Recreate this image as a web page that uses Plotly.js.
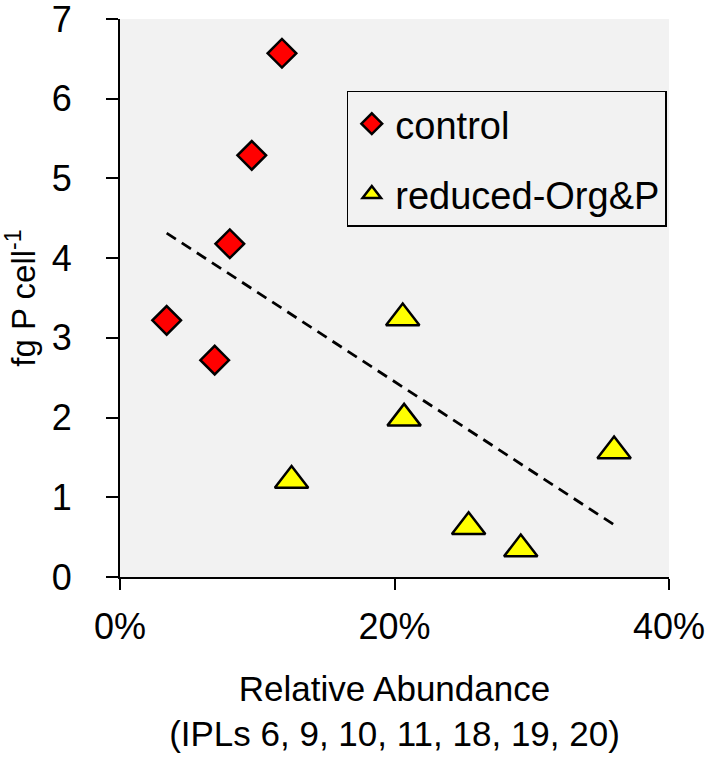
<!DOCTYPE html>
<html>
<head>
<meta charset="utf-8">
<script src="https://cdn.plot.ly/plotly-3.0.1.min.js"></script>
<style>
  html, body { margin: 0; padding: 0; background: #fff; }
  #chart { width: 709px; height: 762px; }
</style>
</head>
<body>
<div id="chart"></div>
<script>
"use strict";

// values
const controlX = [0.034, 0.069, 0.080, 0.096, 0.118];
const controlY = [3.22, 2.72, 4.18, 5.29, 6.57];
const reducedX = [0.125, 0.206, 0.207, 0.254, 0.292, 0.360];
const reducedY = [1.21, 3.25, 1.99, 0.63, 0.35, 1.58];

const seriesNames = ["control", "reduced-Org&P"];
const xTicks = [0, 0.2, 0.4];
const yTicks = [0, 1, 2, 3, 4, 5, 6, 7];

// least squares trend over all points, drawn between the extreme x values
const allX = controlX.concat(reducedX);
const allY = controlY.concat(reducedY);
const n = allX.length;
const mx = allX.reduce((a, b) => a + b, 0) / n;
const my = allY.reduce((a, b) => a + b, 0) / n;
let sxy = 0, sxx = 0;
for (let i = 0; i < n; i++) {
  sxy += (allX[i] - mx) * (allY[i] - my);
  sxx += (allX[i] - mx) * (allX[i] - mx);
}
const slope = sxy / sxx;
const icpt = my - slope * mx;
const trendX = [Math.min(...allX), Math.max(...allX)];
const trendY = trendX.map(x => icpt + slope * x);

const font = "Arial, 'Liberation Sans', sans-serif";

const traces = [
  {
    type: "scatter",
    mode: "lines",
    x: trendX,
    y: trendY,
    showlegend: false,
    hoverinfo: "skip",
    line: { color: "#000", width: 2.8, dash: "11px,7px" },
  },
  {
    type: "scatter",
    mode: "markers",
    name: seriesNames[0],
    legendgroup: "a",
    x: controlX,
    y: controlY,
    marker: { symbol: "diamond", size: 22, color: "#ff0000", line: { color: "#000", width: 2.5 } },
  },
  {
    type: "scatter",
    mode: "markers",
    name: seriesNames[1],
    legendgroup: "b",
    x: reducedX,
    y: reducedY,
    marker: { symbol: "triangle-up", size: 29, color: "#ffff00", line: { color: "#000", width: 2.5 } },
  },
];

const layout = {
  width: 709,
  height: 762,
  margin: { l: 120, r: 40, t: 19, b: 185 },
  paper_bgcolor: "#fff",
  plot_bgcolor: "#f2f2f2",
  font: { family: font, size: 36, color: "#000" },
  showlegend: true,
  legend: {
    x: 0.996, xanchor: "right",
    y: 0.871, yanchor: "top",
    bgcolor: "#f2f2f2",
    bordercolor: "#000",
    borderwidth: 1.5,
    traceorder: "grouped",
    tracegroupgap: 18,
    itemwidth: 37,
    font: { family: font, size: 38, color: "#000" },
  },
  xaxis: {
    range: [0, 0.4],
    tickvals: xTicks,
    tickformat: ".0%",
    showgrid: false,
    zeroline: false,
    showline: true,
    linecolor: "#000",
    linewidth: 2,
    ticks: "outside",
    ticklen: 11,
    tickwidth: 2,
    tickcolor: "#000",
    ticklabelstandoff: 6,
    ticklabeloverflow: "allow",
    tickfont: { size: 36 },
    title: {
      text: "Relative Abundance<br>(IPLs 6, 9, 10, 11, 18, 19, 20)",
      font: { size: 35 },
      standoff: 30,
    },
  },
  yaxis: {
    range: [0, 7],
    tickvals: yTicks,
    showgrid: false,
    zeroline: false,
    showline: true,
    linecolor: "#000",
    linewidth: 2,
    ticks: "outside",
    ticklen: 12,
    tickwidth: 2,
    tickcolor: "#000",
    ticklabelstandoff: 27,
    ticklabeloverflow: "allow",
    tickfont: { size: 36 },
    title: {
      text: "fg P cell<sup>-1</sup>",
      font: { size: 33 },
      standoff: 10,
    },
  },
};

Plotly.newPlot("chart", traces, layout, { displayModeBar: false, staticPlot: true });
</script>
</body>
</html>
